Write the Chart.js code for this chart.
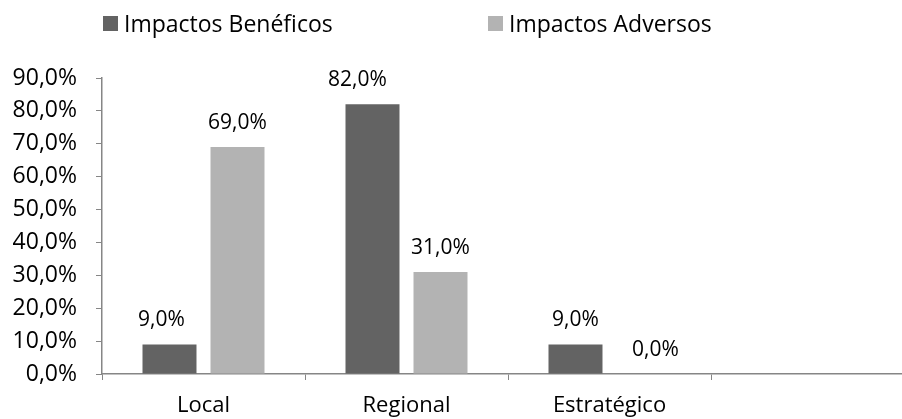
<!DOCTYPE html>
<html>
<head>
<meta charset="utf-8">
<script src="https://cdn.jsdelivr.net/npm/chart.js"></script>
<style>
  html, body { margin: 0; padding: 0; background: #fff; overflow: hidden; }
  #wrap { position: relative; width: 916px; height: 419px; }
</style>
</head>
<body>
<div id="wrap"><canvas id="chart"></canvas></div>
<script>
// Share of impacts by scope (percent)
const categories = ['Local', 'Regional', 'Estratégico', ''];
const seriesNames = ['Impactos Benéficos', 'Impactos Adversos'];
const beneficos = [9.0, 82.0, 9.0, null];
const adversos = [69.0, 31.0, 0.0, null];
const yTicks = [0, 10, 20, 30, 40, 50, 60, 70, 80, 90];

const FONT = '"Open Sans", "Noto Sans", sans-serif';
const AXIS_GRAY = '#868686';
const DARK = '#636363';
const LIGHT = '#b3b3b3';

const fmt = v => v.toFixed(1).replace('.', ',') + '%';

// Legend row: a square swatch followed by the series name
const legendRow = {
  id: 'legendRow',
  afterDraw(chart, args, opts) {
    const ctx = chart.ctx;
    ctx.save();
    ctx.font = `${opts.fontSize}px ${FONT}`;
    ctx.textBaseline = 'alphabetic';
    ctx.textAlign = 'left';
    chart.data.datasets.forEach((ds, i) => {
      const x = opts.starts[i];
      ctx.fillStyle = ds.backgroundColor;
      ctx.fillRect(x, opts.boxTop, opts.boxSize, opts.boxSize);
      ctx.fillStyle = '#000';
      ctx.fillText(ds.label, x + opts.boxSize + opts.gap, opts.baseline);
    });
    ctx.restore();
  }
};

// Value labels above each bar
const valueLabels = {
  id: 'valueLabels',
  afterDatasetsDraw(chart, args, opts) {
    const ctx = chart.ctx;
    ctx.save();
    ctx.font = `${opts.fontSize}px ${FONT}`;
    ctx.fillStyle = '#000';
    ctx.textAlign = 'center';
    ctx.textBaseline = 'alphabetic';
    chart.data.datasets.forEach((ds, di) => {
      const meta = chart.getDatasetMeta(di);
      meta.data.forEach((bar, i) => {
        const v = ds.data[i];
        if (v === null || v === undefined) return;
        const nudge = (opts.nudge[di] && opts.nudge[di][i]) || 0;
        ctx.fillText(fmt(v), bar.x + nudge, bar.y - opts.gap);
      });
    });
    ctx.restore();
  }
};

new Chart(document.getElementById('chart'), {
  type: 'bar',
  data: {
    labels: categories,
    datasets: [
      { label: seriesNames[0], data: beneficos, backgroundColor: DARK },
      { label: seriesNames[1], data: adversos, backgroundColor: LIGHT }
    ]
  },
  options: {
    responsive: true,
    maintainAspectRatio: false,
    animation: false,
    events: [],
    layout: { padding: { top: 78, right: 2, left: 0, bottom: 0 } },
    datasets: {
      bar: { categoryPercentage: 0.67, barPercentage: 0.794 }
    },
    scales: {
      x: {
        grid: {
          offset: true,
          drawOnChartArea: false,
          drawTicks: true,
          tickLength: 6,
          color: AXIS_GRAY,
          lineWidth: 1
        },
        border: { display: true, color: AXIS_GRAY, width: 1.5 },
        ticks: {
          color: '#000',
          font: { family: FONT, size: 22 },
          padding: 13,
          maxRotation: 0,
          autoSkip: false
        },
        afterFit(scale) { scale.height = 45; }
      },
      y: {
        min: 0,
        max: 90,
        afterBuildTicks(scale) { scale.ticks = yTicks.map(v => ({ value: v })); },
        grid: {
          drawOnChartArea: false,
          drawTicks: true,
          tickLength: 6,
          color: AXIS_GRAY,
          lineWidth: 1
        },
        border: { display: true, color: AXIS_GRAY, width: 1.5 },
        ticks: {
          color: '#000',
          font: { family: FONT, size: 23 },
          padding: 19,
          callback: v => fmt(v)
        },
        afterFit(scale) { scale.width = 102; }
      }
    },
    plugins: {
      legend: { display: false },
      tooltip: { enabled: false },
      legendRow: {
        starts: [103, 488],
        boxTop: 16,
        boxSize: 15,
        gap: 6,
        baseline: 32,
        fontSize: 23
      },
      valueLabels: {
        fontSize: 21,
        gap: 18,
        nudge: [[-8, -15, 0, 0], [0, 0, 12, 0]]
      }
    }
  },
  plugins: [legendRow, valueLabels]
});
</script>
</body>
</html>
